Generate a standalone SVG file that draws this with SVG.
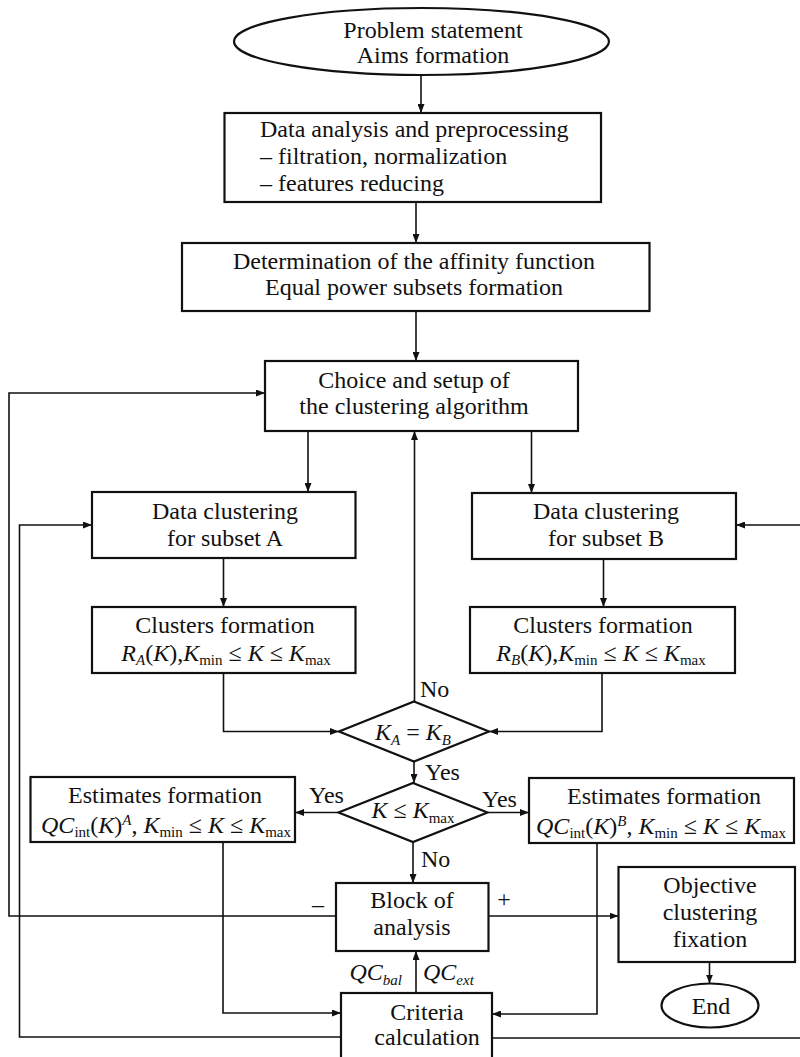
<svg xmlns="http://www.w3.org/2000/svg" width="800" height="1057" viewBox="0 0 800 1057">
<style>
.box{fill:#fff;stroke:#111;stroke-width:2.2}
.conn{fill:none;stroke:#111;stroke-width:1.6}
text{font-family:"Liberation Serif","Times New Roman",serif;font-size:24px;fill:#111}
.mid{text-anchor:middle}
.i{font-style:italic}
.s{font-size:15px}
</style>
<defs>
<marker id="arr" viewBox="0 0 9 7" refX="9" refY="3.5" markerWidth="9" markerHeight="7" markerUnits="userSpaceOnUse" orient="auto"><path d="M0,0 L9,3.5 L0,7 z" fill="#111"/></marker>
</defs>
<rect width="800" height="1057" fill="#fff"/>
<g id="connectors" class="conn" marker-end="url(#arr)">
<path d="M421,75 V113"/>
<path d="M416,202 V243"/>
<path d="M416,311 V361"/>
<path d="M308,431 V492"/>
<path d="M531.5,431 V493"/>
<path d="M414.5,701.5 V431"/>
<path d="M223.5,558 V607"/>
<path d="M603.5,559 V607"/>
<path d="M223.5,673 V731.5 H339"/>
<path d="M602,673 V731.5 H489"/>
<path d="M414,761.5 V783"/>
<path d="M338.5,812.5 H295"/>
<path d="M487.5,812.5 H529"/>
<path d="M413,842 V883"/>
<path d="M488.5,916 H618.5"/>
<path d="M336,916 H9 V393 H265"/>
<path d="M709.5,962 V983.5"/>
<path d="M223,842 V1013 H341"/>
<path d="M597,843 V1014 H492"/>
<path d="M416,993 V951"/>
<path d="M341,1037 H19.5 V525 H92"/>
<path d="M492,1038 H803 V525 H736"/>
</g>
<g id="start"><ellipse class="box" cx="421.5" cy="41.5" rx="187.5" ry="33.5"/>
<text class="mid" x="433" y="38">Problem statement</text><text class="mid" x="433" y="63">Aims formation</text></g>
<g id="preprocessing"><rect class="box" x="224.5" y="113" width="376.5" height="89"/>
<text x="260" y="137">Data analysis and preprocessing</text>
<text x="260" y="164">– filtration, normalization</text>
<text x="260" y="191">– features reducing</text></g>
<g id="affinity"><rect class="box" x="182" y="243" width="467.5" height="68"/>
<text class="mid" x="414" y="269">Determination of the affinity function</text>
<text class="mid" x="414" y="295">Equal power subsets formation</text></g>
<g id="choice"><rect class="box" x="265" y="361" width="313" height="70"/>
<text class="mid" x="414" y="388">Choice and setup of</text>
<text class="mid" x="414" y="414">the clustering algorithm</text></g>
<g id="clusteringA"><rect class="box" x="92" y="492" width="263.5" height="66"/>
<text class="mid" x="225" y="519">Data clustering</text>
<text class="mid" x="225" y="546">for subset A</text></g>
<g id="clusteringB"><rect class="box" x="472" y="493" width="264" height="66"/>
<text class="mid" x="606" y="519">Data clustering</text>
<text class="mid" x="606" y="546">for subset B</text></g>
<g id="clustersA"><rect class="box" x="92" y="607" width="263.5" height="66"/>
<text class="mid" x="225" y="633">Clusters formation</text>
<text class="mid" x="226" y="661"><tspan class="i">R</tspan><tspan class="i s" dy="4">A</tspan><tspan dy="-4">(</tspan><tspan class="i">K</tspan>),<tspan class="i">K</tspan><tspan class="s" dy="4">min</tspan><tspan dy="-4"> ≤ </tspan><tspan class="i">K</tspan> ≤ <tspan class="i">K</tspan><tspan class="s" dy="4">max</tspan></text></g>
<g id="clustersB"><rect class="box" x="470" y="607" width="265" height="66"/>
<text class="mid" x="603" y="633">Clusters formation</text>
<text class="mid" x="601" y="661"><tspan class="i">R</tspan><tspan class="i s" dy="4">B</tspan><tspan dy="-4">(</tspan><tspan class="i">K</tspan>),<tspan class="i">K</tspan><tspan class="s" dy="4">min</tspan><tspan dy="-4"> ≤ </tspan><tspan class="i">K</tspan> ≤ <tspan class="i">K</tspan><tspan class="s" dy="4">max</tspan></text></g>
<g id="compareK"><polygon class="box" points="414,701.5 489,731.5 414,761.5 339,731.5"/>
<text class="mid" x="413" y="740"><tspan class="i">K</tspan><tspan class="i s" dy="5">A</tspan><tspan dy="-5"> = </tspan><tspan class="i">K</tspan><tspan class="i s" dy="5">B</tspan></text></g>
<g id="checkKmax"><polygon class="box" points="413,783 487.5,812.5 413,842 338.5,812.5"/>
<text class="mid" x="413" y="818"><tspan class="i">K</tspan> ≤ <tspan class="i">K</tspan><tspan class="s" dy="5">max</tspan></text></g>
<g id="estimatesA"><rect class="box" x="30.5" y="777" width="264.5" height="65"/>
<text class="mid" x="165" y="803">Estimates formation</text>
<text class="mid" x="166" y="833"><tspan class="i">QC</tspan><tspan class="s" dy="4">int</tspan><tspan dy="-4">(</tspan><tspan class="i">K</tspan>)<tspan class="i s" dy="-8">A</tspan><tspan dy="8">, </tspan><tspan class="i">K</tspan><tspan class="s" dy="4">min</tspan><tspan dy="-4"> ≤ </tspan><tspan class="i">K</tspan> ≤ <tspan class="i">K</tspan><tspan class="s" dy="4">max</tspan></text></g>
<g id="estimatesB"><rect class="box" x="529" y="778" width="265" height="65"/>
<text class="mid" x="664" y="804">Estimates formation</text>
<text class="mid" x="661" y="834"><tspan class="i">QC</tspan><tspan class="s" dy="4">int</tspan><tspan dy="-4">(</tspan><tspan class="i">K</tspan>)<tspan class="i s" dy="-8">B</tspan><tspan dy="8">, </tspan><tspan class="i">K</tspan><tspan class="s" dy="4">min</tspan><tspan dy="-4"> ≤ </tspan><tspan class="i">K</tspan> ≤ <tspan class="i">K</tspan><tspan class="s" dy="4">max</tspan></text></g>
<g id="analysis"><rect class="box" x="336" y="883" width="152.5" height="68"/>
<text class="mid" x="412" y="908">Block of</text>
<text class="mid" x="412" y="935">analysis</text></g>
<g id="objective"><rect class="box" x="618.5" y="867" width="176.5" height="95"/>
<text class="mid" x="710" y="893">Objective</text>
<text class="mid" x="710" y="920">clustering</text>
<text class="mid" x="710" y="947">fixation</text></g>
<g id="end"><ellipse class="box" cx="710" cy="1005.5" rx="48.5" ry="22"/>
<text class="mid" x="711" y="1014">End</text></g>
<g id="criteria"><rect class="box" x="341" y="993" width="151" height="80"/>
<text class="mid" x="427" y="1020">Criteria</text>
<text class="mid" x="427" y="1045">calculation</text></g>
<g id="labels">
<text x="420" y="697" font-size="23">No</text>
<text x="425" y="780" font-size="23">Yes</text>
<text x="309" y="803" font-size="23">Yes</text>
<text x="482" y="807" font-size="23">Yes</text>
<text x="421" y="867" font-size="23">No</text>
<text class="mid" x="318" y="912">–</text>
<text class="mid" x="504" y="907">+</text>
<text x="402" y="980" style="text-anchor:end"><tspan class="i">QC</tspan><tspan class="i s" dy="5">bal</tspan></text>
<text x="423" y="980"><tspan class="i">QC</tspan><tspan class="i s" dy="5">ext</tspan></text>
</g>
</svg>
